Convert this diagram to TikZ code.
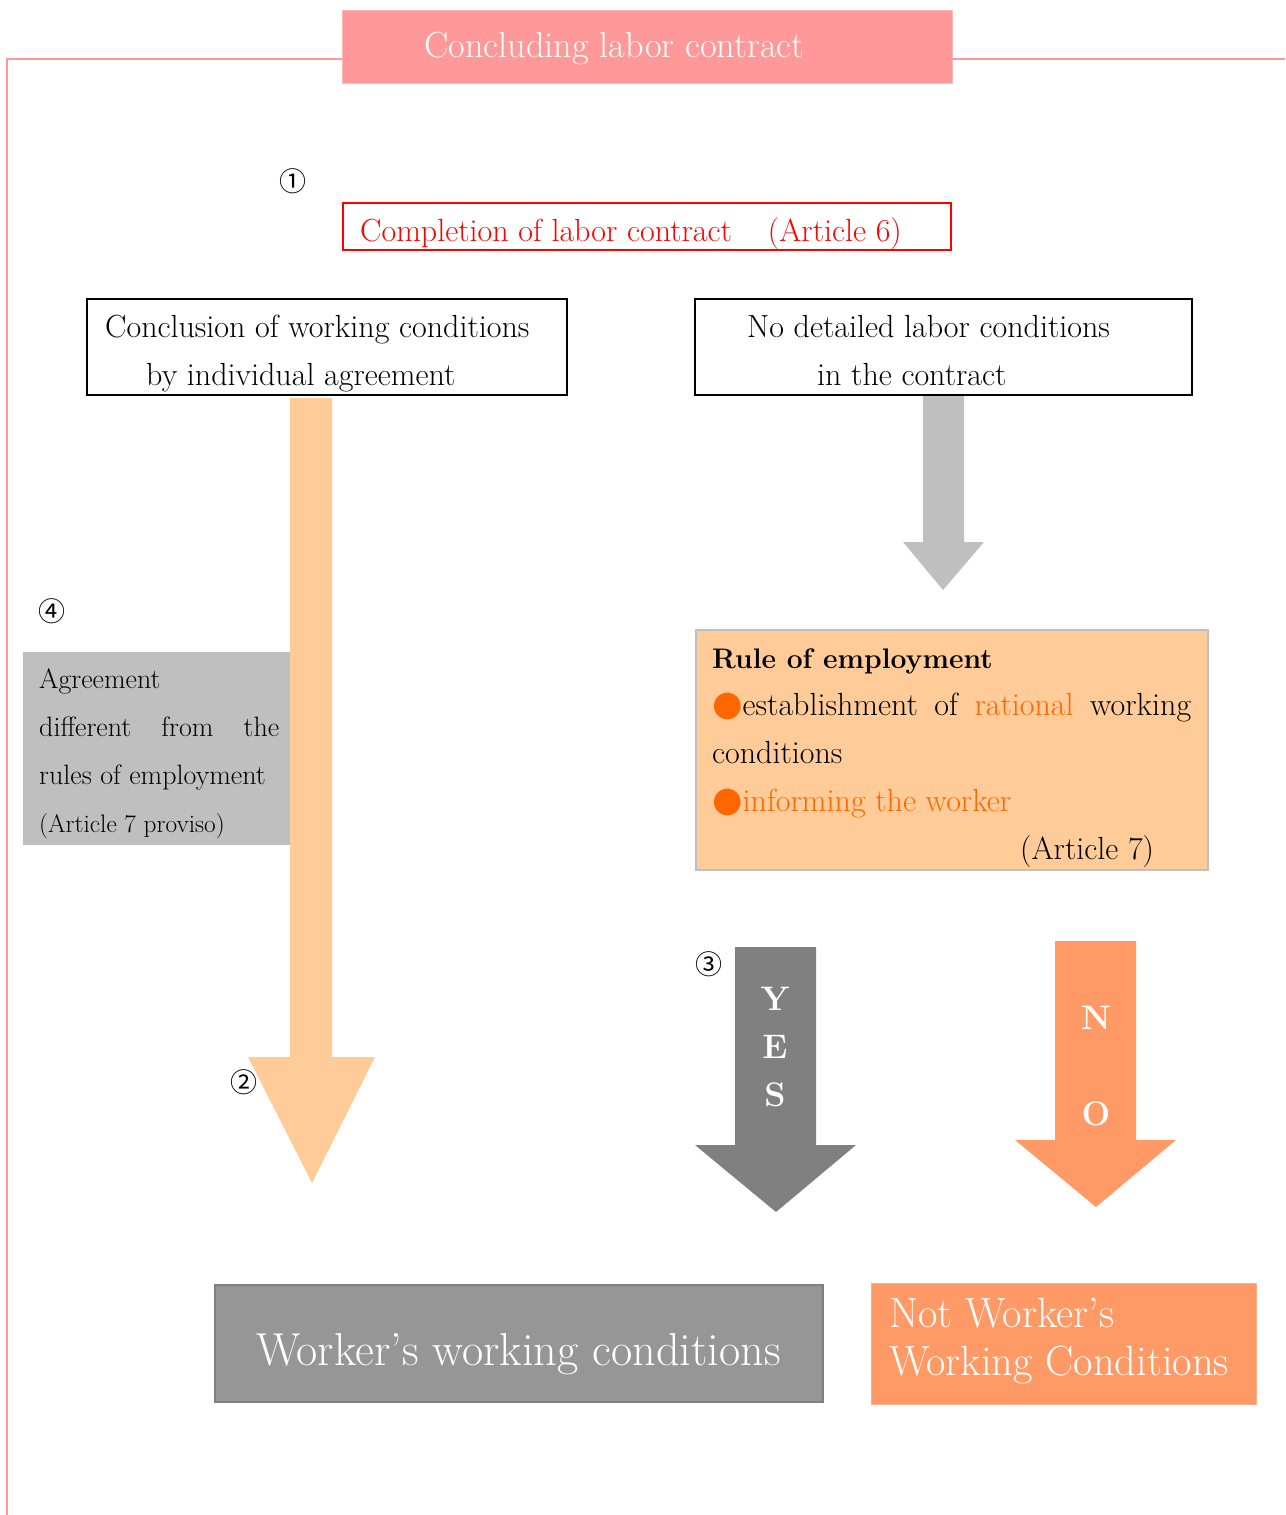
\documentclass[tikz,border=0pt]{standalone}
\usepackage{fontspec}
\newfontfamily\symfont{DejaVu Sans}
\newfontfamily\cjkfont{Noto Sans CJK JP}
\definecolor{framepink}{HTML}{FF9999}
\definecolor{titlepink}{HTML}{FF9999}
\definecolor{peach}{HTML}{FFCC99}
\definecolor{lgray}{HTML}{BFBFBF}
\definecolor{dgray}{HTML}{808080}
\definecolor{mgray}{HTML}{969696}
\definecolor{salmon}{HTML}{FF9966}
\definecolor{brightorange}{HTML}{FF6600}
\newcommand\fs[1]{\fontsize{#1}{#1}\selectfont}
\newcommand\heavy{\addfontfeatures{FakeBold=0.5}}
\newcommand\bul{\textcolor{brightorange}{\symfont\fs{35}●}}
\begin{document}
\begin{tikzpicture}[x=1pt,y=-1pt,
  txt/.style={inner sep=0pt, anchor=base west},
  body/.style={txt, font=\fs{32}\heavy},
  circnum/.style={inner sep=0pt, font=\cjkfont\fs{27}},
  box/.style={anchor=north west, inner sep=0pt, outer sep=0pt},
  letter/.style={inner sep=0pt, anchor=base, text=white, font=\bfseries\fs{34}},
]
\useasboundingbox (0,0) rectangle (1285,1515);
\fill[white] (0,0) rectangle (1285,1515);

% frame line
\coordinate (fl) at (7,1515);
\coordinate (fr) at (1285,59);
\node[box, fill=titlepink, draw=titlepink!70, line width=1pt, minimum width=610pt, minimum height=73pt] (title) at (342,10) {};
\draw[framepink, line width=1.5pt] (title.west |- 0,59) -| (fl);
\draw[framepink, line width=1.5pt] (title.east |- 0,59) -- (fr);
\node[txt, text=white, font=\fs{36.3}\heavy] (titletext) at (424,57) {Concluding labor contract};

% circled numbers
\node[circnum] (n1) at (293,181) {①};
\node[circnum] (n4) at (52,611) {④};
\node[circnum] (n3) at (709,964) {③};
\node[circnum] (n2) at (244,1082) {②};

% red box
\node[box, draw=red, line width=1.5pt, minimum width=608pt, minimum height=47pt] (redbox) at (343,203) {};
\node[body, text=red] (redtext) at (360,241) {Completion of labor contract\hspace{36pt}(Article 6)};

% two boxes
\node[box, draw=black, line width=1.5pt, minimum width=480pt, minimum height=96pt] (boxL) at (87,299) {};
\node[body] (l1) at (105,337) {Conclusion of working conditions};
\node[body] (l2) at (146,385) {by individual agreement};
\node[box, draw=black, line width=1.5pt, minimum width=497pt, minimum height=96pt] (boxR) at (695,299) {};
\node[body] (r1) at (747,337) {No detailed labor conditions};
\node[body] (r2) at (817,385) {in the contract};

% big left arrow
\fill[peach] (290,398) -- (332,398) -- (332,1057) -- (375,1057) -- (312,1183) -- (248,1057) -- (290,1057) -- cycle;
% gray small arrow
\fill[lgray] (923,396) -- (964,396) -- (964,542) -- (984,542) -- (943,590) -- (903,542) -- (923,542) -- cycle;

% gray agreement box
\node[box, fill=lgray, minimum width=267pt, minimum height=193pt] (agree) at (23,652) {};
\node[txt, font=\fs{28}\heavy] (a1) at (39,688) {Agreement};
\node[txt, font=\fs{28}\heavy] (a2) at (39,736) {\makebox[240pt][s]{different from the}};
\node[txt, font=\fs{28}\heavy] (a3) at (39,784) {rules of employment};
\node[txt, font=\fs{25.3}\heavy] (a4) at (39,832) {(Article 7 proviso)};

% rule of employment box
\node[box, fill=peach, draw=lgray, line width=1.5pt, minimum width=512pt, minimum height=240pt] (rule) at (696,630) {};
\node[txt, font=\bfseries\fs{28.3}] (ru1) at (712,668) {Rule of employment};
\node[body] (ru2) at (712,715) {\makebox[479pt][s]{\bul establishment of \textcolor{brightorange}{rational} working}};
\node[body] (ru3) at (712,763) {conditions};
\node[body, text=brightorange] (ru4) at (712,811) {\bul informing the worker};
\node[body] (ru5) at (1020,859) {(Article 7)};

% YES arrow
\fill[dgray] (735,947) -- (816,947) -- (816,1145) -- (856,1145) -- (776,1212) -- (695,1145) -- (735,1145) -- cycle;
\node[letter] (y1) at (775,1010) {Y};
\node[letter] (y2) at (775,1058) {E};
\node[letter] (y3) at (775,1106) {S};

% NO arrow
\fill[salmon] (1055,941) -- (1136,941) -- (1136,1140) -- (1176,1140) -- (1096,1207) -- (1015,1140) -- (1055,1140) -- cycle;
\node[letter] (no1) at (1096,1029) {N};
\node[letter] (no2) at (1096,1125) {O};

% bottom boxes
\node[box, fill=mgray, draw=dgray, line width=1.5pt, minimum width=608pt, minimum height=117pt] (worker) at (215,1285) {};
\node[txt, text=white, font=\fs{46.2}\heavy] (wt) at (256,1365) {Worker’s working conditions};
\node[box, fill=salmon, draw=salmon!80, line width=1pt, minimum width=385pt, minimum height=121pt] (notworker) at (871,1283) {};
\node[txt, text=white, font=\fs{42.3}\heavy] (nw1) at (889,1327) {Not Worker’s};
\node[txt, text=white, font=\fs{42.3}\heavy] (nw2) at (889,1375) {Working Conditions};
\end{tikzpicture}
\end{document}
